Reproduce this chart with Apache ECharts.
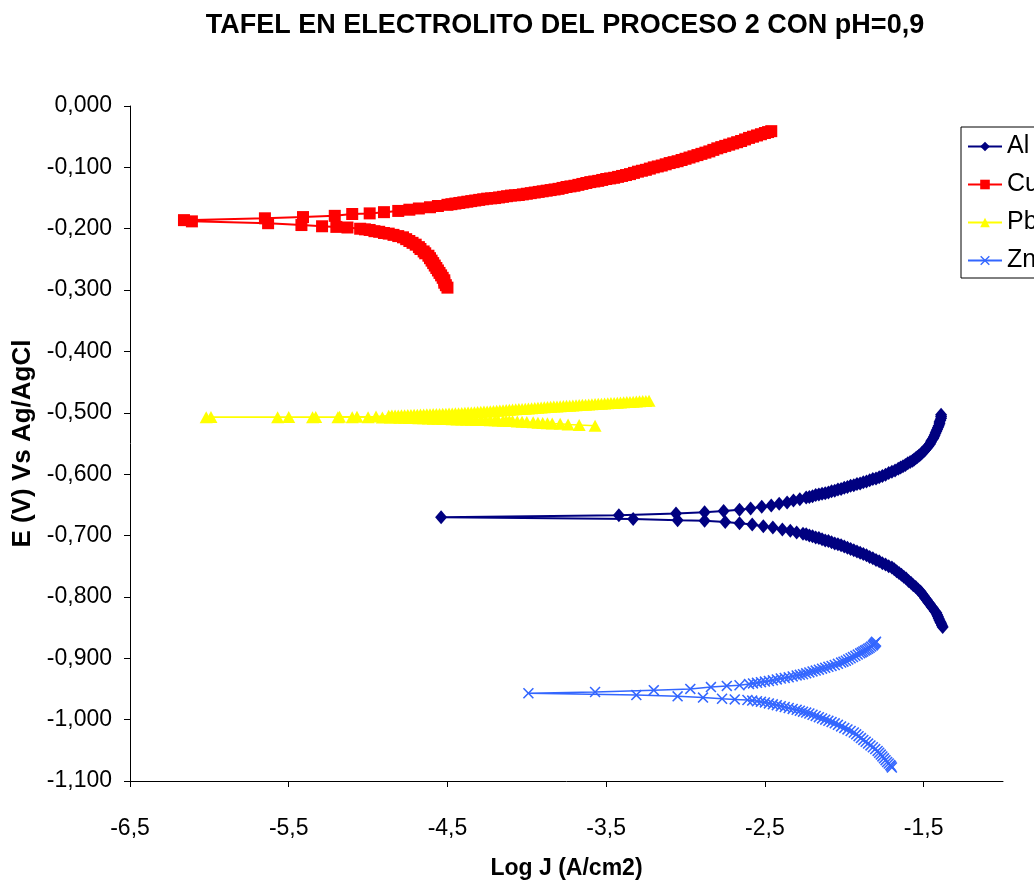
<!DOCTYPE html>
<html>
<head>
<meta charset="utf-8">
<script src="https://cdn.jsdelivr.net/npm/echarts@6/dist/echarts.min.js"></script>
<style>html,body{margin:0;padding:0;background:#fff}#c{width:1034px;height:888px}</style>
</head>
<body>
<div id="c"></div>
<script>
var titleText = 'TAFEL EN ELECTROLITO DEL PROCESO 2 CON pH=0,9';
var xName = 'Log J (A/cm2)';
var yName = 'E (V) Vs Ag/AgCl';
var seriesNames = ['Al', 'Cu', 'Pb', 'Zn'];
var xTicks = [-6.5, -5.5, -4.5, -3.5, -2.5, -1.5];

// Al: cathodic branch (from Ecorr outward), anodic branch (from Ecorr outward)
var alLower = [[-3.33,-0.673],[-3.05,-0.675],[-2.88,-0.676],[-2.75,-0.678],[-2.66,-0.680],[-2.58,-0.682],[-2.51,-0.685],[-2.45,-0.687],[-2.39,-0.690],[-2.34,-0.692],[-2.30,-0.695],[-2.26,-0.697],[-2.24,-0.698],[-2.22,-0.700],[-2.20,-0.701],[-2.18,-0.703],[-2.16,-0.704],[-2.14,-0.706],[-2.12,-0.708],[-2.10,-0.709],[-2.08,-0.711],[-2.06,-0.713],[-2.04,-0.714],[-2.02,-0.716],[-2.00,-0.718],[-1.98,-0.720],[-1.96,-0.722],[-1.94,-0.724],[-1.92,-0.726],[-1.90,-0.728],[-1.88,-0.730],[-1.86,-0.732],[-1.84,-0.735],[-1.82,-0.737],[-1.80,-0.740],[-1.78,-0.742],[-1.76,-0.745],[-1.74,-0.747],[-1.72,-0.750],[-1.70,-0.752],[-1.685,-0.755],[-1.67,-0.758],[-1.655,-0.761],[-1.64,-0.764],[-1.625,-0.767],[-1.61,-0.770],[-1.595,-0.774],[-1.58,-0.777],[-1.565,-0.781],[-1.55,-0.784],[-1.535,-0.788],[-1.52,-0.791],[-1.51,-0.795],[-1.50,-0.798],[-1.49,-0.802],[-1.48,-0.805],[-1.47,-0.809],[-1.46,-0.812],[-1.45,-0.816],[-1.44,-0.819],[-1.43,-0.823],[-1.42,-0.826],[-1.415,-0.829],[-1.41,-0.832],[-1.405,-0.835],[-1.40,-0.838],[-1.395,-0.841],[-1.39,-0.843],[-1.385,-0.846],[-1.38,-0.849]];
var alUpper = [[-4.54,-0.670],[-3.42,-0.667],[-3.06,-0.664],[-2.88,-0.662],[-2.76,-0.660],[-2.66,-0.658],[-2.59,-0.656],[-2.52,-0.653],[-2.46,-0.651],[-2.41,-0.648],[-2.36,-0.646],[-2.32,-0.643],[-2.28,-0.641],[-2.24,-0.638],[-2.22,-0.637],[-2.20,-0.636],[-2.18,-0.634],[-2.16,-0.633],[-2.14,-0.632],[-2.12,-0.631],[-2.10,-0.630],[-2.08,-0.628],[-2.06,-0.627],[-2.04,-0.625],[-2.02,-0.624],[-2.00,-0.622],[-1.98,-0.621],[-1.96,-0.619],[-1.94,-0.618],[-1.92,-0.616],[-1.90,-0.615],[-1.88,-0.613],[-1.86,-0.612],[-1.84,-0.610],[-1.82,-0.608],[-1.80,-0.607],[-1.78,-0.605],[-1.76,-0.603],[-1.74,-0.601],[-1.72,-0.598],[-1.70,-0.596],[-1.68,-0.594],[-1.66,-0.591],[-1.645,-0.589],[-1.63,-0.587],[-1.615,-0.585],[-1.60,-0.582],[-1.585,-0.580],[-1.57,-0.578],[-1.56,-0.576],[-1.55,-0.574],[-1.54,-0.572],[-1.53,-0.570],[-1.52,-0.568],[-1.51,-0.565],[-1.50,-0.563],[-1.49,-0.560],[-1.48,-0.557],[-1.47,-0.554],[-1.46,-0.551],[-1.455,-0.548],[-1.45,-0.545],[-1.44,-0.542],[-1.435,-0.539],[-1.43,-0.536],[-1.425,-0.533],[-1.42,-0.530],[-1.415,-0.527],[-1.41,-0.524],[-1.405,-0.521],[-1.40,-0.518],[-1.40,-0.515],[-1.395,-0.512],[-1.39,-0.509],[-1.39,-0.506],[-1.39,-0.503]];

// Cu
var cuLower = [[-6.11,-0.188],[-5.63,-0.191],[-5.42,-0.194],[-5.29,-0.196],[-5.20,-0.197],[-5.13,-0.198],[-5.05,-0.200],[-5.02,-0.201],[-4.99,-0.202],[-4.96,-0.204],[-4.93,-0.205],[-4.90,-0.207],[-4.87,-0.208],[-4.84,-0.210],[-4.81,-0.212],[-4.78,-0.214],[-4.76,-0.217],[-4.74,-0.220],[-4.72,-0.223],[-4.70,-0.226],[-4.68,-0.230],[-4.67,-0.233],[-4.65,-0.237],[-4.64,-0.240],[-4.62,-0.244],[-4.61,-0.248],[-4.60,-0.252],[-4.59,-0.256],[-4.58,-0.260],[-4.57,-0.264],[-4.56,-0.268],[-4.55,-0.272],[-4.54,-0.276],[-4.53,-0.280],[-4.52,-0.284],[-4.52,-0.288],[-4.51,-0.292],[-4.50,-0.296]];
var cuUpper = [[-6.16,-0.186],[-5.65,-0.183],[-5.41,-0.181],[-5.21,-0.179],[-5.10,-0.176],[-4.99,-0.175],[-4.90,-0.173],[-4.81,-0.171],[-4.74,-0.169],[-4.68,-0.167],[-4.61,-0.165],[-4.56,-0.163],[-4.50,-0.161],[-4.475,-0.160],[-4.45,-0.159],[-4.425,-0.158],[-4.40,-0.157],[-4.375,-0.156],[-4.35,-0.155],[-4.325,-0.154],[-4.30,-0.153],[-4.275,-0.152],[-4.25,-0.151],[-4.225,-0.1505],[-4.20,-0.150],[-4.175,-0.149],[-4.15,-0.148],[-4.125,-0.147],[-4.10,-0.146],[-4.075,-0.1455],[-4.05,-0.145],[-4.025,-0.144],[-4.00,-0.143],[-3.975,-0.142],[-3.95,-0.141],[-3.925,-0.140],[-3.90,-0.139],[-3.875,-0.138],[-3.85,-0.137],[-3.825,-0.136],[-3.80,-0.135],[-3.775,-0.1335],[-3.75,-0.132],[-3.725,-0.131],[-3.70,-0.130],[-3.675,-0.1285],[-3.65,-0.127],[-3.625,-0.1255],[-3.60,-0.124],[-3.575,-0.123],[-3.55,-0.122],[-3.525,-0.1205],[-3.50,-0.119],[-3.475,-0.118],[-3.45,-0.117],[-3.425,-0.1155],[-3.40,-0.114],[-3.375,-0.1125],[-3.35,-0.111],[-3.325,-0.109],[-3.30,-0.107],[-3.275,-0.1055],[-3.25,-0.104],[-3.225,-0.102],[-3.20,-0.100],[-3.175,-0.0985],[-3.15,-0.097],[-3.125,-0.095],[-3.10,-0.093],[-3.075,-0.0915],[-3.05,-0.090],[-3.025,-0.088],[-3.00,-0.086],[-2.975,-0.084],[-2.95,-0.082],[-2.925,-0.080],[-2.90,-0.078],[-2.875,-0.076],[-2.85,-0.074],[-2.825,-0.0715],[-2.80,-0.069],[-2.775,-0.067],[-2.75,-0.065],[-2.725,-0.063],[-2.70,-0.061],[-2.675,-0.059],[-2.65,-0.057],[-2.625,-0.0545],[-2.60,-0.052],[-2.575,-0.050],[-2.55,-0.048],[-2.525,-0.046],[-2.50,-0.044],[-2.48,-0.0425],[-2.46,-0.041]];

// Pb
var pbLower = [[-6.02,-0.5072],[-5.57,-0.5072],[-5.35,-0.5073],[-5.19,-0.5073],[-5.10,-0.5074],[-5.00,-0.5074],[-4.91,-0.5075],[-4.86,-0.5076],[-4.83,-0.5078],[-4.80,-0.5080],[-4.77,-0.5082],[-4.74,-0.5084],[-4.71,-0.5086],[-4.68,-0.5088],[-4.65,-0.5090],[-4.62,-0.5093],[-4.59,-0.5095],[-4.56,-0.5097],[-4.53,-0.5100],[-4.50,-0.5102],[-4.47,-0.5105],[-4.44,-0.5107],[-4.41,-0.5110],[-4.38,-0.5112],[-4.35,-0.5113],[-4.32,-0.5115],[-4.29,-0.5117],[-4.26,-0.5118],[-4.23,-0.5120],[-4.20,-0.5123],[-4.18,-0.5125],[-4.15,-0.5128],[-4.13,-0.5130],[-4.11,-0.5133],[-4.09,-0.5135],[-4.06,-0.5140],[-4.03,-0.5145],[-4.00,-0.5150],[-3.96,-0.5155],[-3.93,-0.5160],[-3.90,-0.5165],[-3.87,-0.5170],[-3.84,-0.5175],[-3.79,-0.5180],[-3.74,-0.5190],[-3.67,-0.5200],[-3.57,-0.5210]];
var pbUpper = [[-5.99,-0.5068],[-5.50,-0.5068],[-5.33,-0.5067],[-5.18,-0.5066],[-5.07,-0.5064],[-4.95,-0.5060],[-4.87,-0.5047],[-4.85,-0.5045],[-4.83,-0.5043],[-4.81,-0.5042],[-4.79,-0.5040],[-4.77,-0.5038],[-4.75,-0.5036],[-4.73,-0.5034],[-4.71,-0.5032],[-4.69,-0.5031],[-4.67,-0.5029],[-4.65,-0.5027],[-4.63,-0.5025],[-4.61,-0.5023],[-4.59,-0.5021],[-4.57,-0.5019],[-4.55,-0.5018],[-4.53,-0.5016],[-4.51,-0.5014],[-4.49,-0.5012],[-4.47,-0.5010],[-4.45,-0.5008],[-4.43,-0.5006],[-4.41,-0.5003],[-4.39,-0.5000],[-4.37,-0.4996],[-4.35,-0.4993],[-4.33,-0.4990],[-4.31,-0.4987],[-4.29,-0.4984],[-4.27,-0.4980],[-4.25,-0.4977],[-4.23,-0.4973],[-4.21,-0.4969],[-4.19,-0.4965],[-4.17,-0.4962],[-4.15,-0.4958],[-4.13,-0.4954],[-4.11,-0.4950],[-4.09,-0.4947],[-4.07,-0.4943],[-4.05,-0.4939],[-4.03,-0.4936],[-4.01,-0.4932],[-3.99,-0.4928],[-3.97,-0.4925],[-3.95,-0.4921],[-3.93,-0.4917],[-3.91,-0.4913],[-3.89,-0.4910],[-3.87,-0.4906],[-3.85,-0.4902],[-3.83,-0.4899],[-3.81,-0.4896],[-3.79,-0.4892],[-3.77,-0.4889],[-3.75,-0.4886],[-3.73,-0.4883],[-3.71,-0.4880],[-3.69,-0.4877],[-3.67,-0.4873],[-3.65,-0.4870],[-3.63,-0.4867],[-3.61,-0.4864],[-3.59,-0.4861],[-3.57,-0.4857],[-3.55,-0.4854],[-3.53,-0.4851],[-3.51,-0.4848],[-3.49,-0.4845],[-3.47,-0.4841],[-3.45,-0.4838],[-3.43,-0.4835],[-3.41,-0.4832],[-3.39,-0.4829],[-3.37,-0.4825],[-3.35,-0.4822],[-3.33,-0.4819],[-3.31,-0.4816],[-3.29,-0.4813],[-3.27,-0.4809],[-3.25,-0.4806],[-3.23,-0.4803]];

// Zn
var znLower = [[-3.99,-0.957],[-3.31,-0.960],[-3.05,-0.962],[-2.89,-0.964],[-2.77,-0.966],[-2.69,-0.967],[-2.61,-0.968],[-2.58,-0.969],[-2.55,-0.970],[-2.525,-0.971],[-2.50,-0.972],[-2.475,-0.9735],[-2.45,-0.975],[-2.425,-0.9765],[-2.40,-0.978],[-2.375,-0.9795],[-2.35,-0.981],[-2.325,-0.9825],[-2.30,-0.984],[-2.28,-0.9855],[-2.26,-0.987],[-2.24,-0.9885],[-2.22,-0.990],[-2.20,-0.992],[-2.18,-0.994],[-2.16,-0.996],[-2.14,-0.998],[-2.12,-1.000],[-2.10,-1.002],[-2.08,-1.004],[-2.06,-1.006],[-2.04,-1.0085],[-2.02,-1.011],[-2.00,-1.0135],[-1.98,-1.016],[-1.96,-1.0185],[-1.94,-1.021],[-1.925,-1.024],[-1.91,-1.027],[-1.895,-1.030],[-1.88,-1.033],[-1.865,-1.036],[-1.85,-1.039],[-1.835,-1.042],[-1.82,-1.045],[-1.805,-1.048],[-1.79,-1.051],[-1.78,-1.054],[-1.77,-1.057],[-1.76,-1.060],[-1.75,-1.063],[-1.74,-1.066],[-1.73,-1.069],[-1.72,-1.0715],[-1.71,-1.074],[-1.705,-1.076],[-1.70,-1.078]];
var znUpper = [[-3.57,-0.955],[-3.20,-0.952],[-2.97,-0.950],[-2.84,-0.947],[-2.74,-0.945],[-2.66,-0.944],[-2.60,-0.942],[-2.575,-0.941],[-2.55,-0.940],[-2.525,-0.939],[-2.50,-0.938],[-2.475,-0.937],[-2.45,-0.936],[-2.425,-0.9345],[-2.40,-0.933],[-2.375,-0.932],[-2.35,-0.931],[-2.325,-0.9295],[-2.30,-0.928],[-2.28,-0.927],[-2.26,-0.926],[-2.24,-0.9245],[-2.22,-0.923],[-2.20,-0.9215],[-2.18,-0.920],[-2.16,-0.9185],[-2.14,-0.917],[-2.12,-0.9155],[-2.10,-0.914],[-2.08,-0.9125],[-2.06,-0.911],[-2.04,-0.909],[-2.02,-0.907],[-2.005,-0.9055],[-1.99,-0.904],[-1.975,-0.902],[-1.96,-0.900],[-1.945,-0.898],[-1.93,-0.896],[-1.915,-0.894],[-1.90,-0.892],[-1.89,-0.8905],[-1.88,-0.889],[-1.87,-0.8875],[-1.86,-0.886],[-1.85,-0.8845],[-1.84,-0.883],[-1.83,-0.881],[-1.82,-0.879],[-1.815,-0.8775],[-1.81,-0.876],[-1.805,-0.8745],[-1.80,-0.873]];

function sweep(lower, upper) { return lower.slice().reverse().concat(upper); }

var colors = ['#000080', '#FF0000', '#FFFF00', '#3366FF'];
var symbols = ['diamond', 'rect', 'triangle', 'path://M1,0L5,4L9,0L10,1L6,5L10,9L9,10L5,6L1,10L0,9L4,5L0,1Z'];
var symbolSizes = [[12, 14], 12, [13, 12], 11];
var lineWidths = [2, 2, 1.5, 1.5];
var datas = [sweep(alLower, alUpper), sweep(cuLower, cuUpper), sweep(pbLower, pbUpper), sweep(znLower, znUpper)];

var FONT = "'Liberation Sans', Arial, sans-serif";
var chart = echarts.init(document.getElementById('c'), null, { renderer: 'canvas' });

var series = seriesNames.map(function (n, i) {
  return {
    name: n, type: 'line', data: datas[i],
    symbol: symbols[i], symbolSize: symbolSizes[i], showAllSymbol: true,
    lineStyle: { color: colors[i], width: lineWidths[i] },
    itemStyle: { color: colors[i], borderWidth: 0 },
    emphasis: { disabled: true }, animation: false, z: 2 + i
  };
});

chart.setOption({
  animation: false,
  backgroundColor: '#fff',
  title: {
    text: titleText, left: 560, textAlign: 'center', top: 7,
    textStyle: { fontFamily: FONT, fontSize: 27, fontWeight: 'bold', color: '#000' }
  },
  legend: {
    data: seriesNames, orient: 'vertical', left: 961, top: 127,
    padding: [7, 40, 5, 6], itemGap: 13, itemWidth: 34, itemHeight: 12,
    borderColor: '#000', borderWidth: 1, backgroundColor: '#fff',
    textStyle: { fontFamily: FONT, fontSize: 25, color: '#000' }
  },
  grid: { left: 130, right: 31, top: 106, bottom: 107, containLabel: false },
  xAxis: {
    type: 'value', min: -6.5, max: -1, interval: 1,
    name: xName, nameLocation: 'middle', nameGap: 76,
    nameTextStyle: { fontFamily: FONT, fontSize: 23, fontWeight: 'bold', color: '#000' },
    axisLine: { onZero: false, lineStyle: { color: '#000', width: 1 } },
    axisTick: { show: true, length: 6, inside: false, lineStyle: { color: '#000' }, customValues: xTicks },
    axisLabel: {
      customValues: xTicks, margin: 36, color: '#000', fontFamily: FONT, fontSize: 23,
      formatter: function (v) { return v.toFixed(1).replace('.', ','); }
    },
    splitLine: { show: false }
  },
  yAxis: {
    type: 'value', min: -1.1, max: 0, interval: 0.1,
    name: yName, nameLocation: 'middle', nameGap: 89, nameRotate: 90,
    nameTextStyle: { fontFamily: FONT, fontSize: 26, fontWeight: 'bold', color: '#000' },
    axisLine: { onZero: false, lineStyle: { color: '#000', width: 1 } },
    axisTick: { show: true, length: 6, lineStyle: { color: '#000' } },
    axisLabel: {
      margin: 18, color: '#000', fontFamily: FONT, fontSize: 23,
      formatter: function (v) { return v.toFixed(3).replace('.', ','); }
    },
    splitLine: { show: false }
  },
  series: series
});
</script>
</body>
</html>
